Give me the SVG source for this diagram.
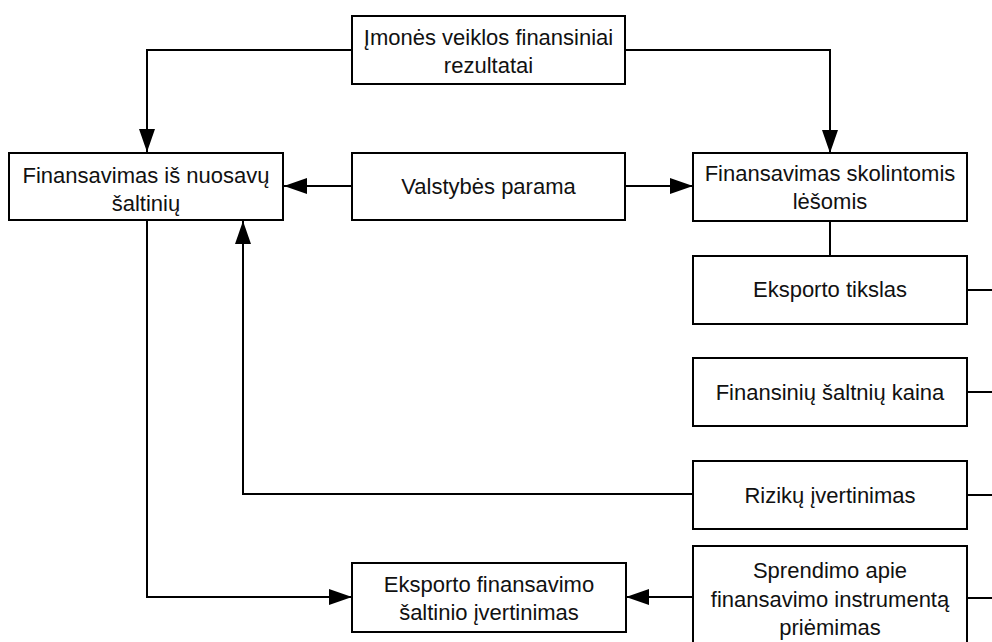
<svg xmlns="http://www.w3.org/2000/svg" width="992" height="642" viewBox="0 0 992 642">
  <style>
    .box { fill: #ffffff; stroke: #000000; stroke-width: 2; }
    .lbl { font-family: "Liberation Sans", Arial, sans-serif; font-size: 22px; fill: #111111; text-anchor: middle; }
    .wire { fill: none; stroke: #000000; stroke-width: 2; }
  </style>
  <defs>
    <marker id="arrow" viewBox="0 0 23 16" refX="23" refY="8" markerWidth="23" markerHeight="16" markerUnits="userSpaceOnUse" orient="auto">
      <path d="M0,0 L23,8 L0,16 Z" fill="#000000"/>
    </marker>
  </defs>

  <!-- connectors -->
  <g id="connectors">
    <path class="wire" d="M352,50 H147 V152" marker-end="url(#arrow)"/>
    <path class="wire" d="M625,50 H830 V153" marker-end="url(#arrow)"/>
    <path class="wire" d="M352,186 H284" marker-end="url(#arrow)"/>
    <path class="wire" d="M625,186 H693" marker-end="url(#arrow)"/>
    <path class="wire" d="M830,221 V256"/>
    <path class="wire" d="M693,494 H243 V221" marker-end="url(#arrow)"/>
    <path class="wire" d="M147,221 V597 H352" marker-end="url(#arrow)"/>
    <path class="wire" d="M693,597 H626" marker-end="url(#arrow)"/>
    <path class="wire" d="M967,290 H992"/>
    <path class="wire" d="M967,392 H992"/>
    <path class="wire" d="M967,495 H992"/>
    <path class="wire" d="M967,598 H992"/>
  </g>

  <g id="financial-results">
    <rect class="box" x="352" y="16" width="273" height="68"/>
    <text class="lbl" x="488.5" y="45">Įmonės veiklos finansiniai</text>
    <text class="lbl" x="488.5" y="73">rezultatai</text>
  </g>

  <g id="own-sources">
    <rect class="box" x="9" y="153" width="274" height="67"/>
    <text class="lbl" x="146" y="183">Finansavimas iš nuosavų</text>
    <text class="lbl" x="146" y="211">šaltinių</text>
  </g>

  <g id="state-support">
    <rect class="box" x="352" y="153" width="273" height="67"/>
    <text class="lbl" x="488.5" y="194">Valstybės parama</text>
  </g>

  <g id="borrowed-funds">
    <rect class="box" x="693" y="153" width="274" height="68"/>
    <text class="lbl" x="830" y="181">Finansavimas skolintomis</text>
    <text class="lbl" x="830" y="209">lėšomis</text>
  </g>

  <g id="export-goal">
    <rect class="box" x="693" y="256" width="274" height="68"/>
    <text class="lbl" x="830" y="297">Eksporto tikslas</text>
  </g>

  <g id="source-cost">
    <rect class="box" x="693" y="358" width="274" height="68"/>
    <text class="lbl" x="830" y="400">Finansinių šaltnių kaina</text>
  </g>

  <g id="risk-assessment">
    <rect class="box" x="693" y="461" width="274" height="68"/>
    <text class="lbl" x="830" y="503">Rizikų įvertinimas</text>
  </g>

  <g id="instrument-decision">
    <rect class="box" x="693" y="546" width="274" height="104"/>
    <text class="lbl" x="830" y="578">Sprendimo apie</text>
    <text class="lbl" x="830" y="607">finansavimo instrumentą</text>
    <text class="lbl" x="830" y="635">priėmimas</text>
  </g>

  <g id="source-evaluation">
    <rect class="box" x="352" y="563" width="274" height="69"/>
    <text class="lbl" x="489" y="592">Eksporto finansavimo</text>
    <text class="lbl" x="489" y="620">šaltinio įvertinimas</text>
  </g>
</svg>
